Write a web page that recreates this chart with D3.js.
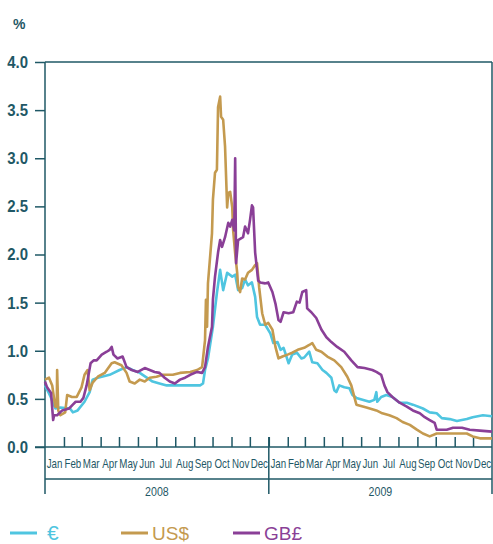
<!DOCTYPE html>
<html><head><meta charset="utf-8">
<script src="https://cdn.jsdelivr.net/npm/d3@7"></script>
<style>
html,body{margin:0;padding:0;background:#fff;}
svg{display:block;font-family:"Liberation Sans",Arial,sans-serif;}
</style></head>
<body>
<svg id="chart" width="493" height="544"></svg>
<script>
// ---- data: t = months since 1 Jan 2008, v = percent ----
const euroT = [0,0.30,0.55,0.81,1.34,1.50,1.77,2.15,2.42,2.58,2.85,3.49,4.03,4.40,4.72,5.10,5.80,6.17,6.55,8.32,8.48,8.59,8.75,9.02,9.23,9.40,9.56,9.77,10.04,10.20,10.36,10.58,10.74,10.90,11.11,11.28,11.38,11.54,11.81,12.08,12.24,12.46,12.62,12.78,13.05,13.26,13.53,13.80,13.96,14.23,14.39,14.66,14.93,15.14,15.41,15.57,15.68,15.84,16.11,16.38,16.54,16.75,17.45,17.72,17.83,17.88,18.09,18.36,18.68,19.06,19.44,19.76,20.30,20.67,21.05,21.32,21.74,22.12,22.66,22.98,23.52,24.00];
const euroV = [0.64,0.52,0.40,0.41,0.40,0.36,0.38,0.47,0.57,0.70,0.72,0.75,0.80,0.83,0.80,0.77,0.68,0.66,0.64,0.64,0.66,0.80,0.92,1.25,1.60,1.84,1.63,1.81,1.77,1.79,1.63,1.65,1.74,1.68,1.71,1.56,1.35,1.27,1.27,1.18,1.08,1.09,1.01,1.03,0.87,0.96,0.98,0.92,0.93,0.99,0.88,0.87,0.80,0.77,0.72,0.59,0.57,0.64,0.62,0.61,0.54,0.51,0.47,0.49,0.57,0.47,0.52,0.54,0.52,0.46,0.46,0.44,0.40,0.36,0.35,0.30,0.29,0.27,0.29,0.31,0.33,0.32];

const usdT = [0,0.21,0.38,0.54,0.62,0.64,0.70,0.81,1.07,1.18,1.45,1.72,1.99,2.15,2.31,2.42,2.58,2.85,3.22,3.60,3.76,4.13,4.40,4.56,4.83,5.10,5.37,5.64,6.01,6.34,6.87,7.25,7.79,8.16,8.43,8.59,8.64,8.70,8.75,8.97,9.02,9.13,9.23,9.29,9.40,9.45,9.56,9.66,9.77,9.83,9.93,10.04,10.09,10.20,10.31,10.36,10.47,10.58,10.74,10.90,11.11,11.28,11.38,11.49,11.65,11.81,11.97,12.19,12.35,12.51,12.72,12.99,13.26,13.58,13.96,14.23,14.39,14.60,14.87,15.19,15.57,15.95,16.27,16.48,16.64,16.75,17.29,17.83,18.15,18.52,18.90,19.22,19.60,19.97,20.30,20.67,21.05,21.58,22.12,22.66,22.98,23.36,24.00];
const usdV = [0.70,0.72,0.64,0.42,0.42,0.80,0.38,0.33,0.36,0.54,0.52,0.52,0.62,0.75,0.80,0.59,0.67,0.73,0.77,0.87,0.88,0.85,0.77,0.68,0.66,0.70,0.68,0.72,0.73,0.75,0.75,0.77,0.78,0.80,0.83,1.11,1.53,1.25,1.70,2.22,2.57,2.85,2.88,3.53,3.64,3.43,3.40,3.12,2.49,2.64,2.65,2.49,2.25,2.01,1.81,1.66,1.61,1.75,1.74,1.81,1.84,1.89,1.91,1.66,1.39,1.27,1.29,1.22,1.04,0.92,0.94,0.96,0.98,1.01,1.03,1.06,1.08,1.01,0.99,0.94,0.90,0.83,0.73,0.64,0.52,0.44,0.41,0.38,0.35,0.33,0.30,0.26,0.23,0.18,0.14,0.11,0.14,0.14,0.14,0.14,0.11,0.09,0.09];

const gbpT = [0,0.11,0.32,0.43,0.48,0.64,0.91,1.29,1.50,1.66,1.93,2.09,2.26,2.47,2.63,2.79,3.06,3.33,3.49,3.60,3.70,3.92,4.19,4.40,4.67,4.99,5.37,5.64,5.91,6.17,6.44,6.71,6.98,7.25,7.52,7.79,8.16,8.43,8.59,8.75,8.97,9.02,9.13,9.29,9.40,9.50,9.66,9.83,9.93,10.04,10.15,10.20,10.25,10.36,10.63,10.74,10.90,11.01,11.11,11.17,11.28,11.44,11.54,11.81,11.97,12.19,12.35,12.51,12.62,12.78,13.05,13.32,13.53,13.69,13.85,14.07,14.12,14.34,14.60,14.87,15.14,15.41,15.73,16.11,16.48,16.81,17.18,17.61,17.83,18.09,18.26,18.42,18.68,19.06,19.44,19.76,20.13,20.40,20.67,20.94,21.05,21.58,21.91,22.40,22.82,23.36,24.00];
const gbpV = [0.68,0.62,0.56,0.28,0.33,0.33,0.38,0.40,0.44,0.47,0.47,0.51,0.64,0.87,0.90,0.90,0.96,0.99,1.01,1.04,0.96,0.92,0.94,0.83,0.80,0.78,0.82,0.80,0.78,0.77,0.72,0.68,0.66,0.70,0.72,0.75,0.78,0.77,0.83,1.04,1.25,1.53,1.77,2.02,2.15,2.08,2.18,2.33,2.29,2.36,2.25,3.00,1.91,2.15,2.18,2.29,2.22,2.36,2.51,2.49,2.02,1.73,1.71,1.70,1.71,1.61,1.49,1.32,1.30,1.40,1.39,1.40,1.51,1.50,1.61,1.63,1.44,1.40,1.34,1.22,1.14,1.09,1.04,0.99,0.90,0.83,0.82,0.80,0.78,0.75,0.64,0.57,0.52,0.46,0.42,0.38,0.35,0.31,0.28,0.25,0.18,0.18,0.20,0.20,0.18,0.17,0.16];

const seriesNames = ["€", "US$", "GB£"];
const seriesColors = ["#4fc5e0", "#c49a4f", "#8a3f97"];
const yTicks = [0, 0.5, 1.0, 1.5, 2.0, 2.5, 3.0, 3.5, 4.0];
const monthLabels = ["Jan","Feb","Mar","Apr","May","Jun","Jul","Aug","Sep","Oct","Nov","Dec"];
const years = [2008, 2009];

// ---- helpers ----
function toDate(t){
  const m = Math.floor(t), f = t - m;
  const a = new Date(2008, m, 1), b = new Date(2008, m + 1, 1);
  return new Date(+a + f * (b - a));
}
const series = [euroT, usdT, gbpT].map((T, i) => ({
  name: seriesNames[i], color: seriesColors[i],
  values: T.map((t, j) => ({date: toDate(t), v: [euroV, usdV, gbpV][i][j]}))
}));

const svg = d3.select("#chart");
const axisColor = "#1f5866";
const L = 45, R = 492, T = 62, B = 447;

const x = d3.scaleTime().domain([new Date(2008,0,1), new Date(2010,0,1)]).range([L, R]);
const y = d3.scaleLinear().domain([0, 4]).range([B, T]);

// top & right frame
svg.append("line").attr("x1", L).attr("x2", R).attr("y1", T).attr("y2", T)
  .attr("stroke", axisColor).attr("stroke-width", 1.5);
svg.append("line").attr("x1", R).attr("x2", R).attr("y1", T).attr("y2", 494)
  .attr("stroke", axisColor).attr("stroke-width", 1.5);

// y axis
const yAxis = svg.append("g").attr("transform", `translate(${L},0)`)
  .call(d3.axisLeft(y).tickValues(yTicks).tickFormat(d3.format(".1f")).tickSize(10).tickPadding(0));
yAxis.select(".domain").attr("stroke", axisColor).attr("stroke-width", 1.5).attr("d", `M0,${T}V494`);
yAxis.selectAll(".tick line").attr("stroke", axisColor).attr("stroke-width", 1.5);
yAxis.selectAll(".tick text").attr("fill", axisColor).attr("x", null)
  .attr("transform", "translate(-17,0) scale(0.88,1)")
  .style("font-size", "17px").style("font-weight", "bold");

svg.append("text").attr("x", 13).attr("y", 29).text("%")
  .attr("fill", axisColor).style("font-size", "14px").style("font-weight", "bold");

// x axis
const months = d3.timeMonth.range(new Date(2008,0,1), new Date(2010,0,1));
const xAxis = svg.append("g").attr("transform", `translate(0,${B})`)
  .call(d3.axisTop(x).tickValues(months.slice(1)).tickFormat("").tickSize(10));
xAxis.select(".domain").remove();
xAxis.selectAll(".tick line").attr("stroke", axisColor).attr("stroke-width", 1.5);
svg.append("line").attr("x1", 35).attr("x2", R).attr("y1", B).attr("y2", B)
  .attr("stroke", axisColor).attr("stroke-width", 1.5);
svg.append("line").attr("x1", L).attr("x2", R).attr("y1", 479).attr("y2", 479)
  .attr("stroke", axisColor).attr("stroke-width", 1.5);

svg.append("g").selectAll("text").data(months).join("text")
  .attr("transform", d => `translate(${(x(d) + x(d3.timeMonth.offset(d, 1))) / 2},468) scale(0.78,1)`)
  .attr("text-anchor", "middle")
  .attr("fill", axisColor)
  .style("font-size", "12.5px")
  .text(d => monthLabels[d.getMonth()]);

// year separators and labels
const ySep = [new Date(2009,0,1)];
svg.append("g").selectAll("line").data(ySep).join("line")
  .attr("x1", d => x(d)).attr("x2", d => x(d)).attr("y1", 437).attr("y2", 494)
  .attr("stroke", axisColor).attr("stroke-width", 1.5);
svg.append("g").selectAll("text").data(years).join("text")
  .attr("transform", d => `translate(${(x(new Date(d,0,1)) + x(new Date(d+1,0,1))) / 2},496) scale(0.85,1)`)
  .attr("text-anchor", "middle")
  .attr("fill", axisColor)
  .style("font-size", "12.5px")
  .text(d => d);

// lines
const line = d3.line().x(d => x(d.date)).y(d => y(d.v)).curve(d3.curveLinear);
svg.append("g").selectAll("path").data(series).join("path")
  .attr("d", d => line(d.values))
  .attr("fill", "none")
  .attr("stroke", d => d.color)
  .attr("stroke-width", 2.6)
  .attr("stroke-linejoin", "round");

// legend
const legendX = [10, 121, 233];
const lg = svg.append("g").selectAll("g").data(series).join("g")
  .attr("transform", (d, i) => `translate(${legendX[i]},533)`);
lg.append("line").attr("x1", 0).attr("x2", 27).attr("y1", 0).attr("y2", 0)
  .attr("stroke", d => d.color).attr("stroke-width", 3);
lg.append("text").attr("x", (d, i) => i === 0 ? 37 : 31).attr("y", 7)
  .attr("fill", d => d.color)
  .style("font-size", (d, i) => i === 0 ? "21px" : "19px")
  .text(d => d.name);
</script>
</body></html>
